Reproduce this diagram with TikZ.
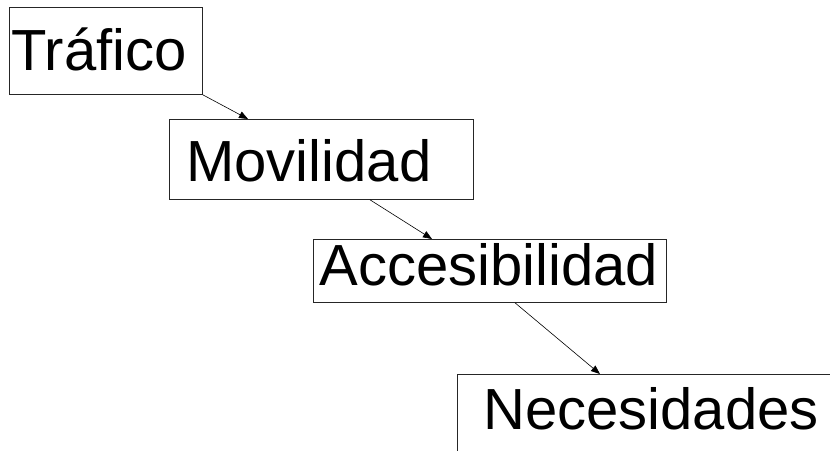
\documentclass[tikz,border=0pt]{standalone}
\usepackage{fontspec}
\setmainfont{Liberation Sans}
\usepackage{xcolor}
\usetikzlibrary{arrows.meta, positioning}

\begin{document}
\begin{tikzpicture}[
    x=1pt, y=-1pt,
    box/.style={rectangle, draw=black!85, line width=0.8pt, anchor=north west, align=left, inner ysep=0pt, font=\fontsize{58}{58}\selectfont},
    link/.style={-{Triangle[length=9pt,width=7pt]}, line width=0.6pt}
]
\clip (0,0) rectangle (830,450);

\node[box, inner xsep=2pt, text width=189pt, text height=63pt, text depth=24pt] (trafico) at (9,7) {Tráfico};
\node[box, inner xsep=17pt, text width=270pt, text height=62pt, text depth=18pt] (movilidad) at (169,119) {Movilidad};
\node[box, inner xsep=6pt, text width=341pt, text height=46pt, text depth=17pt] (accesibilidad) at (313,239) {Accesibilidad};
\node[box, inner xsep=26pt, text width=600pt, text height=55pt, text depth=60pt] (necesidades) at (457,374) {Necesidades};

\draw[link] (trafico.south east) -- ([xshift=79pt]movilidad.north west);
\draw[link] ([xshift=201pt]movilidad.south west) -- ([xshift=119pt]accesibilidad.north west);
\draw[link] ([xshift=202pt]accesibilidad.south west) -- ([xshift=143pt]necesidades.north west);

\end{tikzpicture}
\end{document}
